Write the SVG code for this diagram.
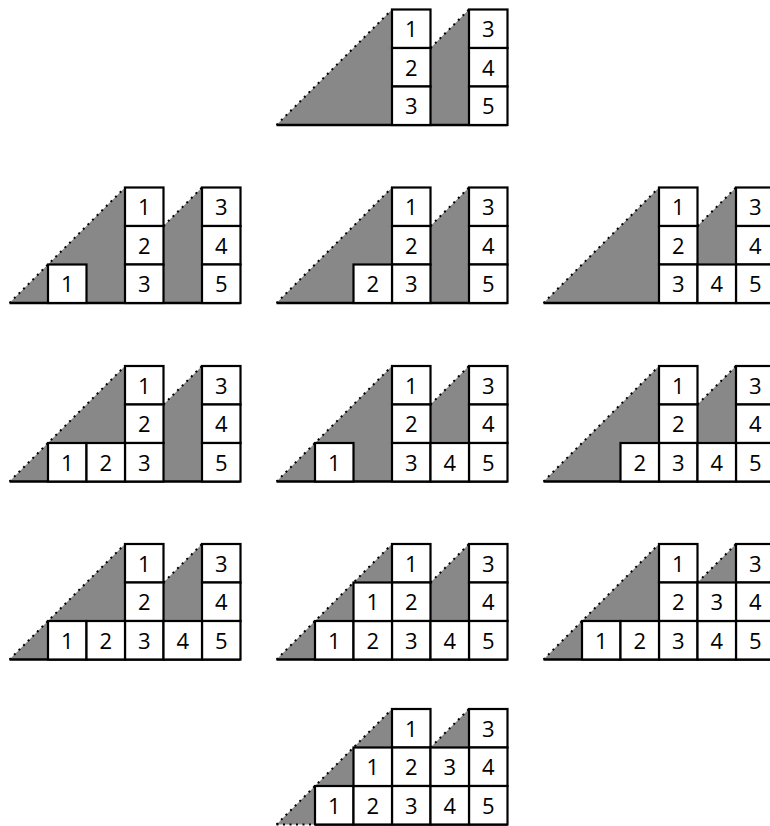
<svg xmlns="http://www.w3.org/2000/svg" width="770" height="826" viewBox="0 0 770 826">
<style>
.g{fill:#888888;stroke:none}
.d{fill:none;stroke:#000;stroke-width:2;stroke-dasharray:2 4.5}
.b{fill:none;stroke:#000;stroke-width:2.5}
.c{fill:#fff;stroke:#000;stroke-width:2.2}
text{font-family:"Open Sans","Noto Sans","DejaVu Sans",sans-serif;font-size:22px;text-anchor:middle;fill:#000}
</style>
<defs>
<g id="bg">
<polygon class="g" points="0,0 115.5,-115.5 115.5,0"/>
<polygon class="g" points="154,0 154,-77 192.5,-115.5 192.5,0"/>
<path class="d" d="M0,0 L115.5,-115.5 M154,-77 L192.5,-115.5"/>
</g>
<g id="fix">
<rect class="c" x="115.5" y="-115.5" width="38.5" height="38.5"/><text x="134.75" y="-88">1</text>
<rect class="c" x="115.5" y="-77" width="38.5" height="38.5"/><text x="134.75" y="-49.5">2</text>
<rect class="c" x="115.5" y="-38.5" width="38.5" height="38.5"/><text x="134.75" y="-11">3</text>
<rect class="c" x="192.5" y="-115.5" width="38.5" height="38.5"/><text x="211.75" y="-88">3</text>
<rect class="c" x="192.5" y="-77" width="38.5" height="38.5"/><text x="211.75" y="-49.5">4</text>
<rect class="c" x="192.5" y="-38.5" width="38.5" height="38.5"/><text x="211.75" y="-11">5</text>
</g>
</defs>

<g id="A" transform="translate(276.5,125)">
<use href="#bg"/><path class="b" d="M0,0 H231"/><use href="#fix"/>
</g>

<g id="B1" transform="translate(9.5,303)">
<use href="#bg"/><path class="b" d="M0,0 H231"/><use href="#fix"/>
<rect class="c" x="38.5" y="-38.5" width="38.5" height="38.5"/><text x="57.75" y="-11">1</text>
</g>
<g id="B2" transform="translate(276.5,303)">
<use href="#bg"/><path class="b" d="M0,0 H231"/><use href="#fix"/>
<rect class="c" x="77" y="-38.5" width="38.5" height="38.5"/><text x="96.25" y="-11">2</text>
</g>
<g id="B3" transform="translate(543.5,303)">
<use href="#bg"/><path class="b" d="M0,0 H231"/><use href="#fix"/>
<rect class="c" x="154" y="-38.5" width="38.5" height="38.5"/><text x="173.25" y="-11">4</text>
</g>

<g id="C1" transform="translate(9.5,481.5)">
<use href="#bg"/><path class="b" d="M0,0 H231"/><use href="#fix"/>
<rect class="c" x="38.5" y="-38.5" width="38.5" height="38.5"/><text x="57.75" y="-11">1</text>
<rect class="c" x="77" y="-38.5" width="38.5" height="38.5"/><text x="96.25" y="-11">2</text>
</g>
<g id="C2" transform="translate(276.5,481.5)">
<use href="#bg"/><path class="b" d="M0,0 H231"/><use href="#fix"/>
<rect class="c" x="38.5" y="-38.5" width="38.5" height="38.5"/><text x="57.75" y="-11">1</text>
<rect class="c" x="154" y="-38.5" width="38.5" height="38.5"/><text x="173.25" y="-11">4</text>
</g>
<g id="C3" transform="translate(543.5,481.5)">
<use href="#bg"/><path class="b" d="M0,0 H231"/><use href="#fix"/>
<rect class="c" x="77" y="-38.5" width="38.5" height="38.5"/><text x="96.25" y="-11">2</text>
<rect class="c" x="154" y="-38.5" width="38.5" height="38.5"/><text x="173.25" y="-11">4</text>
</g>

<g id="D1" transform="translate(9.5,659.5)">
<use href="#bg"/><path class="b" d="M0,0 H231"/><use href="#fix"/>
<rect class="c" x="38.5" y="-38.5" width="38.5" height="38.5"/><text x="57.75" y="-11">1</text>
<rect class="c" x="77" y="-38.5" width="38.5" height="38.5"/><text x="96.25" y="-11">2</text>
<rect class="c" x="154" y="-38.5" width="38.5" height="38.5"/><text x="173.25" y="-11">4</text>
</g>
<g id="D2" transform="translate(276.5,659.5)">
<use href="#bg"/><path class="b" d="M0,0 H231"/><use href="#fix"/>
<rect class="c" x="38.5" y="-38.5" width="38.5" height="38.5"/><text x="57.75" y="-11">1</text>
<rect class="c" x="77" y="-38.5" width="38.5" height="38.5"/><text x="96.25" y="-11">2</text>
<rect class="c" x="154" y="-38.5" width="38.5" height="38.5"/><text x="173.25" y="-11">4</text>
<rect class="c" x="77" y="-77" width="38.5" height="38.5"/><text x="96.25" y="-49.5">1</text>
</g>
<g id="D3" transform="translate(543.5,659.5)">
<use href="#bg"/><path class="b" d="M0,0 H231"/><use href="#fix"/>
<rect class="c" x="38.5" y="-38.5" width="38.5" height="38.5"/><text x="57.75" y="-11">1</text>
<rect class="c" x="77" y="-38.5" width="38.5" height="38.5"/><text x="96.25" y="-11">2</text>
<rect class="c" x="154" y="-38.5" width="38.5" height="38.5"/><text x="173.25" y="-11">4</text>
<rect class="c" x="154" y="-77" width="38.5" height="38.5"/><text x="173.25" y="-49.5">3</text>
</g>

<g id="E" transform="translate(276.5,824.5)">
<use href="#bg"/><path class="d" d="M0,0 H38.5"/><path class="b" d="M38.5,0 H231"/><use href="#fix"/>
<rect class="c" x="38.5" y="-38.5" width="38.5" height="38.5"/><text x="57.75" y="-11">1</text>
<rect class="c" x="77" y="-38.5" width="38.5" height="38.5"/><text x="96.25" y="-11">2</text>
<rect class="c" x="154" y="-38.5" width="38.5" height="38.5"/><text x="173.25" y="-11">4</text>
<rect class="c" x="77" y="-77" width="38.5" height="38.5"/><text x="96.25" y="-49.5">1</text>
<rect class="c" x="154" y="-77" width="38.5" height="38.5"/><text x="173.25" y="-49.5">3</text>
</g>
</svg>
